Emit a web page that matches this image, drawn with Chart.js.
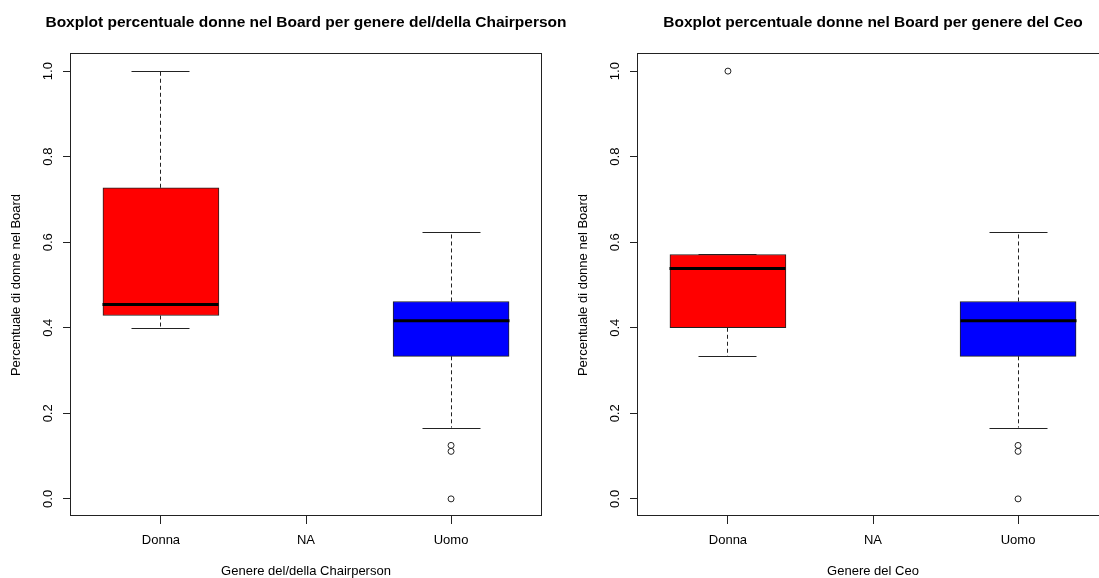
<!DOCTYPE html>
<html>
<head>
<meta charset="utf-8">
<script src="https://cdn.jsdelivr.net/npm/chart.js@4.4.1/dist/chart.umd.min.js"></script>
<style>
  html, body { margin: 0; padding: 0; background: #fff; overflow: hidden; width: 1099px; height: 578px; }
  #wrap { position: relative; width: 1099px; height: 578px; overflow: hidden; }
  canvas { position: absolute; top: 0; }
  #chairChart { left: 0; }
  #ceoChart { left: 567px; }
</style>
</head>
<body>
<div id="wrap">
  <canvas id="chairChart" width="568" height="578"></canvas>
  <canvas id="ceoChart" width="568" height="578"></canvas>
</div>
<script>
// Groups on the x axis and tick values on the y axis
const categories = ['Donna', 'NA', 'Uomo'];
const yTicks = [0.0, 0.2, 0.4, 0.6, 0.8, 1.0];
const boxColors = ['#FF0000', null, '#0000FF'];

// Share of women on the board, split by the Chairperson's gender
const chairLowWhisker  = [0.4,    null, 0.1667];
const chairQ1          = [0.4286, null, 0.3333];
const chairMedian      = [0.4545, null, 0.4167];
const chairQ3          = [0.7273, null, 0.4615];
const chairHighWhisker = [1.0,    null, 0.625];
const chairOutliers    = [[], [], [0.125, 0.1111, 0.0]];

// Share of women on the board, split by the CEO's gender
const ceoLowWhisker  = [0.3333, null, 0.1667];
const ceoQ1          = [0.4,    null, 0.3333];
const ceoMedian      = [0.5385, null, 0.4167];
const ceoQ3          = [0.5714, null, 0.4615];
const ceoHighWhisker = [0.5714, null, 0.625];
const ceoOutliers    = [[1.0], [], [0.125, 0.1111, 0.0]];

const FONT = "'Liberation Sans', Arial, Helvetica, sans-serif";
const INK = '#222';
const BOX_PX = 116;

// Main title centred over the plot region, plus whiskers, staples, medians and the plot frame
const boxDetails = {
  id: 'boxDetails',
  afterDraw(chart, args, opts) {
    if (!opts.title) return;
    const { ctx, chartArea } = chart;
    ctx.save();
    ctx.font = 'bold 15.5px ' + FONT;
    ctx.fillStyle = '#000';
    ctx.textAlign = 'center';
    ctx.textBaseline = 'middle';
    ctx.fillText(opts.title, (chartArea.left + chartArea.right) / 2, 22.6);
    ctx.restore();
  },
  afterDatasetsDraw(chart, args, opts) {
    const s = opts.stats;
    if (!s) return;
    const { ctx, chartArea, scales: { x, y } } = chart;
    ctx.save();
    s.median.forEach((med, i) => {
      if (med === null) return;
      const cx = Math.floor(x.getPixelForValue(i + 1)) + 0.5;
      const half = BOX_PX / 2;
      const stapleHalf = half / 2;
      const yLo = y.getPixelForValue(s.low[i]);
      const yQ1 = y.getPixelForValue(s.q1[i]);
      const yMed = y.getPixelForValue(med);
      const yQ3 = y.getPixelForValue(s.q3[i]);
      const yHi = y.getPixelForValue(s.high[i]);

      ctx.strokeStyle = INK;
      ctx.lineWidth = 1;
      ctx.setLineDash([4, 3]);
      ctx.beginPath();
      ctx.moveTo(cx, yQ1); ctx.lineTo(cx, yLo);
      ctx.moveTo(cx, yQ3); ctx.lineTo(cx, yHi);
      ctx.stroke();
      ctx.setLineDash([]);

      ctx.beginPath();
      ctx.moveTo(cx - stapleHalf, Math.round(yLo) + 0.5); ctx.lineTo(cx + stapleHalf, Math.round(yLo) + 0.5);
      ctx.moveTo(cx - stapleHalf, Math.round(yHi) + 0.5); ctx.lineTo(cx + stapleHalf, Math.round(yHi) + 0.5);
      ctx.stroke();

      ctx.strokeStyle = '#000';
      ctx.lineWidth = 3;
      ctx.beginPath();
      ctx.moveTo(cx - half, yMed); ctx.lineTo(cx + half, yMed);
      ctx.stroke();
    });

    ctx.strokeStyle = INK;
    ctx.lineWidth = 1;
    const l = Math.round(chartArea.left) - 0.5;
    const t = Math.round(chartArea.top) - 0.5;
    const r = Math.round(chartArea.right) + 0.5;
    const b = Math.round(chartArea.bottom) - 0.5;
    ctx.strokeRect(l, t, r - l, b - t);
    ctx.restore();
  }
};

function buildPanel(canvasId, titleText, xTitle, stats) {
  const boxData = [];
  const colors = [];
  categories.forEach((c, i) => {
    if (stats.q1[i] === null) return;
    boxData.push({ x: i + 1, y: [stats.q1[i], stats.q3[i]] });
    colors.push(boxColors[i]);
  });
  const outlierData = [];
  stats.outliers.forEach((vals, i) => vals.forEach(v => outlierData.push({ x: i + 1, y: v })));

  return new Chart(document.getElementById(canvasId), {
    type: 'bar',
    data: {
      datasets: [
        {
          data: boxData,
          backgroundColor: colors,
          borderColor: INK,
          borderWidth: 1,
          borderSkipped: false,
          barThickness: BOX_PX,
          grouped: false
        },
        {
          type: 'scatter',
          data: outlierData,
          pointStyle: 'circle',
          pointRadius: 3,
          pointBorderWidth: 1,
          pointBorderColor: INK,
          pointBackgroundColor: '#fff'
        }
      ]
    },
    plugins: [boxDetails],
    options: {
      responsive: false,
      animation: false,
      events: [],
      layout: { padding: { left: 0, right: 27, top: 54, bottom: 0 } },
      plugins: {
        legend: { display: false },
        tooltip: { enabled: false },
        title: { display: false },
        boxDetails: { stats, title: titleText }
      },
      scales: {
        x: {
          type: 'linear',
          min: 0.38,
          max: 3.62,
          offset: false,
          afterBuildTicks: (scale) => { scale.ticks = categories.map((c, i) => ({ value: i + 1 })); },
          afterFit: (scale) => { scale.height = 62; },
          grid: { display: true, offset: false, drawOnChartArea: false, drawTicks: true, tickLength: 8, color: INK, lineWidth: 1 },
          border: { display: false },
          ticks: {
            autoSkip: false,
            maxRotation: 0,
            padding: 9,
            color: '#000',
            font: { family: FONT, size: 13 },
            callback: (v) => categories[Math.round(v) - 1]
          },
          title: {
            display: true,
            text: xTitle,
            color: '#000',
            font: { family: FONT, size: 13, lineHeight: 1 },
            padding: { top: 0, bottom: 0 }
          }
        },
        y: {
          type: 'linear',
          min: -0.04,
          max: 1.04,
          afterBuildTicks: (scale) => { scale.ticks = yTicks.map(v => ({ value: v })); },
          afterFit: (scale) => { scale.width = 71; },
          grid: { display: true, drawOnChartArea: false, drawTicks: true, tickLength: 8, color: INK, lineWidth: 1 },
          border: { display: false },
          ticks: {
            minRotation: 90,
            maxRotation: 90,
            crossAlign: 'center',
            padding: 6,
            color: '#000',
            font: { family: FONT, size: 13 },
            callback: (v) => Number(v).toFixed(1)
          },
          title: {
            display: true,
            text: 'Percentuale di donne nel Board',
            color: '#000',
            font: { family: FONT, size: 13, lineHeight: 1.2 },
            padding: { top: 9, bottom: 0 }
          }
        }
      }
    }
  });
}

buildPanel('chairChart',
  'Boxplot percentuale donne nel Board per genere del/della Chairperson',
  'Genere del/della Chairperson',
  { low: chairLowWhisker, q1: chairQ1, median: chairMedian, q3: chairQ3, high: chairHighWhisker, outliers: chairOutliers });

buildPanel('ceoChart',
  'Boxplot percentuale donne nel Board per genere del Ceo',
  'Genere del Ceo',
  { low: ceoLowWhisker, q1: ceoQ1, median: ceoMedian, q3: ceoQ3, high: ceoHighWhisker, outliers: ceoOutliers });
</script>
</body>
</html>
